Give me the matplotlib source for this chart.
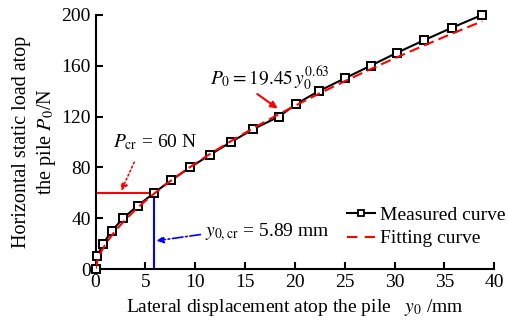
import numpy as np
import matplotlib.pyplot as plt
from matplotlib.lines import Line2D

plt.rcParams['font.family'] = ['Liberation Serif', 'DejaVu Serif']
plt.rcParams['mathtext.fontset'] = 'stix'

# measured load-displacement points
disp = [0, 0.17, 0.75, 1.65, 2.75, 4.25, 5.89, 7.6, 9.5, 11.5, 13.6,
        15.8, 18.4, 20.15, 22.4, 25.0, 27.6, 30.2, 32.95, 35.8, 38.8]
load = [0, 10, 20, 30, 40, 50, 60, 70, 80, 90, 100,
        110, 120, 130, 140, 150, 160, 170, 180, 190, 200]

# fitting curve P0 = 19.45 * y0^0.63 (coefficients from the chart label)
fit_a = 19.45
fit_b = 0.63
p_cr = 60
y_cr = 5.89

x_fit = np.linspace(0, 38.8, 200)
p_fit = fit_a * x_fit ** fit_b

fig = plt.figure(figsize=(5.08, 3.29), dpi=100)
ax = fig.add_axes([0.188, 0.182, 0.785, 0.773])

ax.plot(disp, load, color='black', lw=1.5, marker='s', ms=5.5,
        mfc='white', mec='black', mew=1.4, zorder=3, clip_on=False)
ax.plot(x_fit, p_fit, color='red', lw=1.5, dashes=(5, 2.5), zorder=4)

# critical load / displacement guides
ax.plot([0, y_cr], [p_cr, p_cr], color='red', lw=1.5, zorder=2)
ax.plot([y_cr, y_cr], [0, p_cr], color='blue', lw=1.5, zorder=2)

ax.text(1.8, 100, r'$P_{\rm cr}$ = 60 N', fontsize=14, va='center')
ax.annotate('', xy=(2.45, 59.5), xytext=(4.0, 86),
            arrowprops=dict(arrowstyle='-|>', color='red', lw=1.2,
                            linestyle=':', mutation_scale=10))

ax.text(11.0, 29, r'$y_{0,\rm cr}$ = 5.89 mm', fontsize=14, va='center')
ax.annotate('', xy=(5.85, 22), xytext=(10.8, 27.5),
            arrowprops=dict(arrowstyle='-|>', color='blue', lw=1.2,
                            linestyle='-.', mutation_scale=10))

ax.text(11.5, 150, r'$P_0=19.45\,y_0^{0.63}$', fontsize=14, va='center')
ax.annotate('', xy=(18.5, 125), xytext=(16.0, 139),
            arrowprops=dict(arrowstyle='-|>', color='red', lw=1.5,
                            mutation_scale=10))

ax.set_xlim(0, 40)
ax.set_ylim(0, 200)
ax.set_xticks(np.arange(0, 41, 5))
ax.set_yticks(np.arange(0, 201, 40))
ax.tick_params(direction='in', labelsize=14, width=1.5, length=5)
for s in ['top', 'right']:
    ax.spines[s].set_visible(False)
for s in ['left', 'bottom']:
    ax.spines[s].set_linewidth(1.5)

ax.set_xlabel(r'Lateral displacement atop the pile   $y_0$ /mm', fontsize=14, labelpad=4)
ax.set_ylabel('Horizontal static load atop\nthe pile $P_0$/N', fontsize=14.5,
              labelpad=2, linespacing=1.25)

handles = [
    Line2D([], [], color='black', lw=1.5, marker='s', ms=4.5, mfc='white',
           mec='black', mew=1.3),
    Line2D([], [], color='red', lw=1.5, dashes=(5, 3.5)),
]
fig.legend(handles, ['Measured curve', 'Fitting curve'], loc='upper left',
           bbox_to_anchor=(0.683, 0.373), frameon=False, fontsize=14,
           handlelength=1.45, handletextpad=0.25, labelspacing=0.3,
           borderaxespad=0, borderpad=0, numpoints=1)

fig.savefig('out.png', dpi=100)
